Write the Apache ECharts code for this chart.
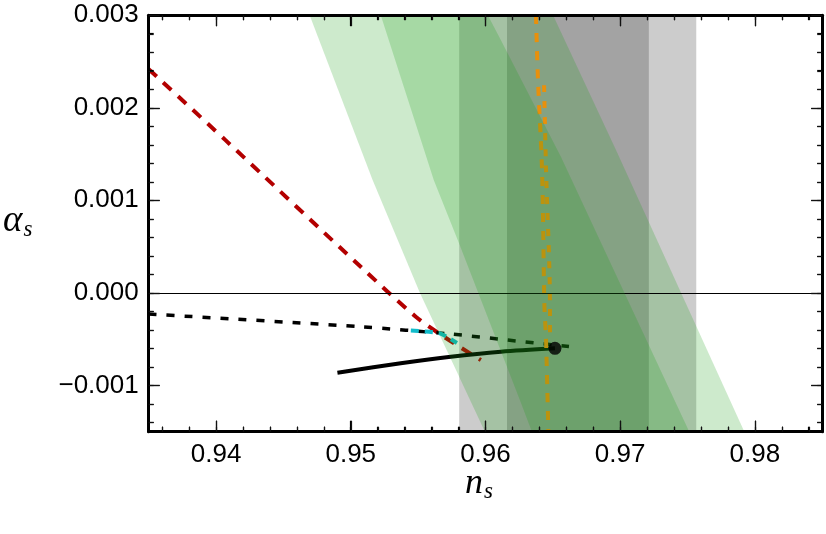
<!DOCTYPE html>
<html><head><meta charset="utf-8">
<script src="https://cdn.jsdelivr.net/npm/echarts@6/dist/echarts.min.js"></script>
<style>html,body{margin:0;padding:0;background:#fff}#c{width:826px;height:534px}</style>
</head><body><div id="c"></div>
<script>
// ---- axis extents and tick labels ----
const xRange = [0.935, 0.985];
const yRange = [-0.0015, 0.003];
const xTickLabels = [0.94, 0.95, 0.96, 0.97, 0.98];
const yTickLabels = [-0.001, 0.000, 0.001, 0.002, 0.003];

// ---- vertical gray bands (n_s ranges) ----
const grayBands = [[0.95805, 0.97565], [0.9616, 0.97213]];

// ---- slanted green bands: left edge (top->bottom), right edge (bottom->top) ----
const outerBandLeft = [[0.94695, 0.003], [0.95163, 0.001218], [0.95513, 0.0], [0.95996, -0.0015]];
const outerBandRight = [[0.97922, -0.0015], [0.96970, 0.001542], [0.96502, 0.003]];
const innerBandLeft = [[0.95223, 0.003], [0.95617, 0.001218], [0.95803, 0.000538], [0.96264, -0.00119], [0.96345, -0.0015]];
const innerBandRight = [[0.97513, -0.0015], [0.96561, 0.001467], [0.96115, 0.00273], [0.96018, 0.003]];

// ---- curves ----
const redDashed = [[0.935, 0.002417], [0.94070, 0.00165], [0.95074, 0.000282], [0.95483, -0.000258], [0.95706, -0.000488], [0.95966, -0.000726]];
const blackDashed = [[0.935, -0.000229], [0.95074, -0.000366], [0.95743, -0.000445], [0.96167, -0.000510], [0.96620, -0.00058]];
const blackSolid = [[0.94901, -0.000863], [0.95371, -0.000761], [0.95743, -0.000690], [0.96115, -0.000636], [0.96516, -0.000599]];
const cyanDashed = [[0.95446, -0.000407], [0.95654, -0.000434], [0.95728, -0.000488], [0.95788, -0.000542]];
const orangeDashedA = [[0.96375, 0.003], [0.96390, 0.002298], [0.96420, 0.001326], [0.96438, -0.000150], [0.96449, -0.000477], [0.96467, -0.0015]];
const orangeDashedB = [[0.96435, 0.002244], [0.96450, 0.001326], [0.96479, -0.000150], [0.96479, -0.000477]];
const bestPoint = [[0.96516, -0.000599]];

const greenFill = 'rgba(28,160,23,0.22)';
const grayFill = 'rgba(0,0,0,0.2)';

const labelFont = { fontSize: 26, fontFamily: 'Liberation Sans, Arial, sans-serif', color: '#000' };

function fmtX(v) { return v.toFixed(2); }
function fmtY(v) { return Math.abs(v) < 1e-12 ? '0.000' : v.toFixed(3).replace('-', '\u2212'); }

// minor tick positions (between the labelled ticks)
const xMinorTicks = [];
for (let i = 468; i <= 492; i++) if (i % 5 !== 0) xMinorTicks.push(+(i * 0.002).toFixed(4));
const yMinorTicks = [];
for (let i = -7; i <= 14; i++) if (i % 5 !== 0) yMinorTicks.push(+(i * 0.0002).toFixed(5));

function axisLineOpt(major) {
  return major ? { show: true, onZero: false, lineStyle: { color: '#000', width: 3 } } : { show: false, onZero: false };
}
function tickOpt(len) {
  return { show: true, inside: true, length: len, lineStyle: { color: '#000', width: 1.2 } };
}
function xAx(pos, split, len, major) {
  return {
    type: 'value', min: xRange[0], max: xRange[1], position: pos, splitNumber: split, z: 10,
    axisLine: axisLineOpt(major),
    axisTick: tickOpt(len),
    axisLabel: (major && pos === 'bottom') ? Object.assign({ show: true, margin: 10, showMinLabel: false, showMaxLabel: false,
      formatter: fmtX }, labelFont) : { show: false },
    splitLine: { show: false }, minorTick: { show: false }
  };
}
function yAx(pos, split, len, major) {
  return {
    type: 'value', min: yRange[0], max: yRange[1], position: pos, splitNumber: split, z: 10,
    axisLine: axisLineOpt(major),
    axisTick: tickOpt(len),
    axisLabel: (major && pos === 'left') ? Object.assign({ show: true, margin: 10, showMinLabel: false, showMaxLabel: true,
      formatter: fmtY }, labelFont) : { show: false },
    splitLine: { show: false }, minorTick: { show: false }
  };
}

function polygonSeries(left, right, z) {
  return {
    type: 'custom', z: z, silent: true, data: [0],
    renderItem: function (params, api) {
      const pts = left.concat(right).map(p => api.coord(p));
      return { type: 'polygon', shape: { points: pts }, style: { fill: greenFill } };
    }
  };
}
function lineSeries(data, color, width, dash, z) {
  return {
    type: 'line', data: data, z: z, symbol: 'none', smooth: 0.3, silent: true,
    lineStyle: { color: color, width: width, type: dash || 'solid', cap: 'butt' }
  };
}

// frame ticks drawn through the axes' scale (api.coord), all four sides
function tickFrameSeries() {
  return {
    type: 'custom', z: 12, silent: true, clip: false, data: [0],
    renderItem: function (params, api) {
      const cs = params.coordSys;
      const top = cs.y, bottom = cs.y + cs.height, left = cs.x, right = cs.x + cs.width;
      const children = [];
      function seg(x1, y1, x2, y2) {
        children.push({ type: 'line', shape: { x1: x1, y1: y1, x2: x2, y2: y2 },
          style: { stroke: '#111', lineWidth: 1.2 } });
      }
      function xt(v, L) {
        const px = Math.round(api.coord([v, 0])[0]) + 0.5;
        seg(px, top, px, top + L); seg(px, bottom, px, bottom - L);
      }
      function yt(v, L) {
        const py = Math.round(api.coord([0.96, v])[1]) + 0.5;
        seg(left, py, left + L, py); seg(right, py, right - L, py);
      }
      xTickLabels.forEach(v => xt(v, 11));
      xMinorTicks.forEach(v => xt(v, 5));
      yTickLabels.forEach(v => yt(v, 11));
      yMinorTicks.forEach(v => yt(v, 5));
      return { type: 'group', children: children };
    }
  };
}

const serifIt = { fontFamily: 'Liberation Serif, Times New Roman, serif', fontStyle: 'italic', fill: '#000' };

const chart = echarts.init(document.getElementById('c'), null, { renderer: 'canvas' });
chart.setOption({
  animation: false,
  backgroundColor: '#fff',
  grid: { left: 148.7, right: 3.8, top: 15.2, bottom: 102.3 },
  xAxis: [
    xAx('bottom', 5, 11, true),
    xAx('bottom', 25, 5, false),
    xAx('top', 5, 11, true),
    xAx('top', 25, 5, false)
  ],
  yAxis: [
    yAx('left', 5, 11, true),
    yAx('left', 22, 5, false),
    yAx('right', 5, 11, true),
    yAx('right', 22, 5, false)
  ],
  graphic: [
    { type: 'text', left: 465, top: 466, z: 20,
      style: { text: '{n|n}{s|s}', rich: {
        n: Object.assign({ fontSize: 36 }, serifIt),
        s: Object.assign({ fontSize: 23, padding: [16, 0, 0, 1] }, serifIt) } } },
    { type: 'text', left: 3, top: 203, z: 20,
      style: { text: '{a|\u03b1}{s|s}', rich: {
        a: Object.assign({ fontSize: 37 }, serifIt),
        s: Object.assign({ fontSize: 23, padding: [16, 0, 0, 1] }, serifIt) } } }
  ],
  series: [
    { type: 'custom', z: 1, silent: true, data: grayBands,
      renderItem: function (params, api) {
        const a = api.coord([api.value(0), yRange[1]]);
        const b = api.coord([api.value(1), yRange[0]]);
        return { type: 'rect', shape: { x: a[0], y: a[1], width: b[0] - a[0], height: b[1] - a[1] }, style: { fill: grayFill } };
      } },
    lineSeries(redDashed, '#b30000', 4, [11, 9], 2),
    lineSeries(blackDashed, '#000', 3.5, [8, 10], 2),
    lineSeries(blackSolid, '#000', 4, 'solid', 2),
    lineSeries(cyanDashed, '#12bccb', 4, [8, 6], 2),
    polygonSeries(outerBandLeft, outerBandRight, 3),
    lineSeries(orangeDashedA, '#e8900c', 4, [9, 9], 4),
    lineSeries(orangeDashedB, '#e8900c', 4, [7, 9], 4),
    polygonSeries(innerBandLeft, innerBandRight, 5),
    { type: 'scatter', data: bestPoint, z: 6, symbol: 'circle', symbolSize: 13, silent: true,
      itemStyle: { color: '#000' },
      markLine: { silent: true, symbol: 'none', label: { show: false },
        lineStyle: { color: '#000', width: 1.2, type: 'solid' }, data: [{ yAxis: 0 }] } },
    tickFrameSeries()
  ]
});
</script></body></html>
